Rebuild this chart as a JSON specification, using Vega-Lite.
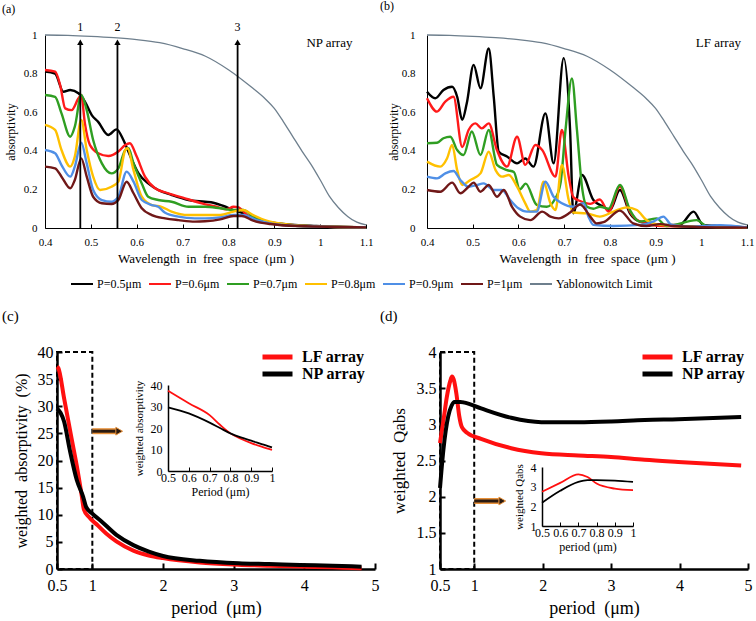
{
"$schema": "https://vega.github.io/schema/vega-lite/v6.json",
"background": "white",
"padding": {"left": 2, "top": 0, "right": 2, "bottom": 1},
"config": {
  "font": "Liberation Serif",
  "view": {"stroke": null},
  "axis": {"grid": false, "domainColor": "#000", "tickColor": "#000", "labelColor": "#000", "titleColor": "#000", "titleFontWeight": "normal", "labelFont": "Liberation Serif", "titleFont": "Liberation Serif", "labelOverlap": false, "tickCount": 50},
  "legend": {"labelFont": "Liberation Serif", "labelColor": "#000"},
  "title": {"font": "Liberation Serif", "fontWeight": "normal", "color": "#000", "anchor": "start", "frame": "group"}
},
"datasets": {
  "a": [
    {"s":"P=0.5μm","x":0.4,"y":0.81},{"s":"P=0.5μm","x":0.422,"y":0.8},{"s":"P=0.5μm","x":0.44,"y":0.706},{"s":"P=0.5μm","x":0.455,"y":0.715},{"s":"P=0.5μm","x":0.473,"y":0.698},{"s":"P=0.5μm","x":0.487,"y":0.655},{"s":"P=0.5μm","x":0.502,"y":0.585},{"s":"P=0.5μm","x":0.516,"y":0.55},{"s":"P=0.5μm","x":0.538,"y":0.482},{"s":"P=0.5μm","x":0.556,"y":0.511},{"s":"P=0.5μm","x":0.571,"y":0.456},{"s":"P=0.5μm","x":0.585,"y":0.378},{"s":"P=0.5μm","x":0.604,"y":0.283},{"s":"P=0.5μm","x":0.625,"y":0.231},{"s":"P=0.5μm","x":0.647,"y":0.197},{"s":"P=0.5μm","x":0.676,"y":0.171},{"s":"P=0.5μm","x":0.713,"y":0.145},{"s":"P=0.5μm","x":0.749,"y":0.136},{"s":"P=0.5μm","x":0.767,"y":0.131},{"s":"P=0.5μm","x":0.789,"y":0.114},{"s":"P=0.5μm","x":0.811,"y":0.093},{"s":"P=0.5μm","x":0.832,"y":0.076},{"s":"P=0.5μm","x":0.854,"y":0.05},{"s":"P=0.5μm","x":0.883,"y":0.033},{"s":"P=0.5μm","x":0.92,"y":0.021},{"s":"P=0.5μm","x":0.992,"y":0.01},{"s":"P=0.5μm","x":1.1,"y":0.003},
    {"s":"P=0.6μm","x":0.4,"y":0.819},{"s":"P=0.6μm","x":0.422,"y":0.81},{"s":"P=0.6μm","x":0.433,"y":0.741},{"s":"P=0.6μm","x":0.444,"y":0.62},{"s":"P=0.6μm","x":0.458,"y":0.611},{"s":"P=0.6μm","x":0.473,"y":0.672},{"s":"P=0.6μm","x":0.479,"y":0.689},{"s":"P=0.6μm","x":0.487,"y":0.542},{"s":"P=0.6μm","x":0.498,"y":0.43},{"s":"P=0.6μm","x":0.516,"y":0.387},{"s":"P=0.6μm","x":0.538,"y":0.373},{"s":"P=0.6μm","x":0.56,"y":0.396},{"s":"P=0.6μm","x":0.575,"y":0.43},{"s":"P=0.6μm","x":0.585,"y":0.439},{"s":"P=0.6μm","x":0.6,"y":0.37},{"s":"P=0.6μm","x":0.618,"y":0.266},{"s":"P=0.6μm","x":0.64,"y":0.206},{"s":"P=0.6μm","x":0.669,"y":0.18},{"s":"P=0.6μm","x":0.705,"y":0.154},{"s":"P=0.6μm","x":0.742,"y":0.128},{"s":"P=0.6μm","x":0.774,"y":0.11},{"s":"P=0.6μm","x":0.796,"y":0.097},{"s":"P=0.6μm","x":0.811,"y":0.11},{"s":"P=0.6μm","x":0.822,"y":0.107},{"s":"P=0.6μm","x":0.84,"y":0.067},{"s":"P=0.6μm","x":0.862,"y":0.041},{"s":"P=0.6μm","x":0.891,"y":0.024},{"s":"P=0.6μm","x":0.956,"y":0.01},{"s":"P=0.6μm","x":1.1,"y":0.003},
    {"s":"P=0.7μm","x":0.4,"y":0.689},{"s":"P=0.7μm","x":0.422,"y":0.68},{"s":"P=0.7μm","x":0.436,"y":0.594},{"s":"P=0.7μm","x":0.455,"y":0.473},{"s":"P=0.7μm","x":0.465,"y":0.525},{"s":"P=0.7μm","x":0.479,"y":0.689},{"s":"P=0.7μm","x":0.491,"y":0.611},{"s":"P=0.7μm","x":0.505,"y":0.456},{"s":"P=0.7μm","x":0.524,"y":0.335},{"s":"P=0.7μm","x":0.545,"y":0.283},{"s":"P=0.7μm","x":0.56,"y":0.309},{"s":"P=0.7μm","x":0.575,"y":0.404},{"s":"P=0.7μm","x":0.582,"y":0.413},{"s":"P=0.7μm","x":0.593,"y":0.335},{"s":"P=0.7μm","x":0.611,"y":0.231},{"s":"P=0.7μm","x":0.625,"y":0.162},{"s":"P=0.7μm","x":0.647,"y":0.145},{"s":"P=0.7μm","x":0.676,"y":0.136},{"s":"P=0.7μm","x":0.713,"y":0.11},{"s":"P=0.7μm","x":0.749,"y":0.11},{"s":"P=0.7μm","x":0.782,"y":0.102},{"s":"P=0.7μm","x":0.811,"y":0.093},{"s":"P=0.7μm","x":0.832,"y":0.093},{"s":"P=0.7μm","x":0.854,"y":0.059},{"s":"P=0.7μm","x":0.883,"y":0.033},{"s":"P=0.7μm","x":0.956,"y":0.01},{"s":"P=0.7μm","x":1.1,"y":0.003},
    {"s":"P=0.8μm","x":0.4,"y":0.534},{"s":"P=0.8μm","x":0.422,"y":0.508},{"s":"P=0.8μm","x":0.436,"y":0.404},{"s":"P=0.8μm","x":0.455,"y":0.318},{"s":"P=0.8μm","x":0.465,"y":0.37},{"s":"P=0.8μm","x":0.479,"y":0.56},{"s":"P=0.8μm","x":0.491,"y":0.404},{"s":"P=0.8μm","x":0.505,"y":0.266},{"s":"P=0.8μm","x":0.52,"y":0.197},{"s":"P=0.8μm","x":0.545,"y":0.214},{"s":"P=0.8μm","x":0.56,"y":0.24},{"s":"P=0.8μm","x":0.575,"y":0.404},{"s":"P=0.8μm","x":0.58,"y":0.413},{"s":"P=0.8μm","x":0.593,"y":0.3},{"s":"P=0.8μm","x":0.611,"y":0.162},{"s":"P=0.8μm","x":0.633,"y":0.119},{"s":"P=0.8μm","x":0.654,"y":0.11},{"s":"P=0.8μm","x":0.676,"y":0.085},{"s":"P=0.8μm","x":0.713,"y":0.067},{"s":"P=0.8μm","x":0.749,"y":0.067},{"s":"P=0.8μm","x":0.782,"y":0.067},{"s":"P=0.8μm","x":0.811,"y":0.085},{"s":"P=0.8μm","x":0.832,"y":0.093},{"s":"P=0.8μm","x":0.854,"y":0.067},{"s":"P=0.8μm","x":0.883,"y":0.038},{"s":"P=0.8μm","x":0.92,"y":0.021},{"s":"P=0.8μm","x":0.97,"y":0.01},{"s":"P=0.8μm","x":1.1,"y":0.003},
    {"s":"P=0.9μm","x":0.4,"y":0.404},{"s":"P=0.9μm","x":0.422,"y":0.387},{"s":"P=0.9μm","x":0.436,"y":0.326},{"s":"P=0.9μm","x":0.455,"y":0.266},{"s":"P=0.9μm","x":0.465,"y":0.318},{"s":"P=0.9μm","x":0.479,"y":0.442},{"s":"P=0.9μm","x":0.491,"y":0.335},{"s":"P=0.9μm","x":0.505,"y":0.197},{"s":"P=0.9μm","x":0.524,"y":0.145},{"s":"P=0.9μm","x":0.545,"y":0.136},{"s":"P=0.9μm","x":0.56,"y":0.162},{"s":"P=0.9μm","x":0.578,"y":0.292},{"s":"P=0.9μm","x":0.593,"y":0.24},{"s":"P=0.9μm","x":0.611,"y":0.145},{"s":"P=0.9μm","x":0.633,"y":0.119},{"s":"P=0.9μm","x":0.647,"y":0.11},{"s":"P=0.9μm","x":0.662,"y":0.079},{"s":"P=0.9μm","x":0.691,"y":0.059},{"s":"P=0.9μm","x":0.727,"y":0.05},{"s":"P=0.9μm","x":0.749,"y":0.05},{"s":"P=0.9μm","x":0.782,"y":0.055},{"s":"P=0.9μm","x":0.811,"y":0.067},{"s":"P=0.9μm","x":0.832,"y":0.067},{"s":"P=0.9μm","x":0.862,"y":0.041},{"s":"P=0.9μm","x":0.891,"y":0.024},{"s":"P=0.9μm","x":0.956,"y":0.01},{"s":"P=0.9μm","x":1.1,"y":0.003},
    {"s":"P=1μm","x":0.4,"y":0.318},{"s":"P=1μm","x":0.422,"y":0.309},{"s":"P=1μm","x":0.436,"y":0.266},{"s":"P=1μm","x":0.455,"y":0.206},{"s":"P=1μm","x":0.465,"y":0.249},{"s":"P=1μm","x":0.479,"y":0.361},{"s":"P=1μm","x":0.491,"y":0.266},{"s":"P=1μm","x":0.505,"y":0.162},{"s":"P=1μm","x":0.524,"y":0.128},{"s":"P=1μm","x":0.545,"y":0.124},{"s":"P=1μm","x":0.56,"y":0.145},{"s":"P=1μm","x":0.578,"y":0.24},{"s":"P=1μm","x":0.593,"y":0.18},{"s":"P=1μm","x":0.611,"y":0.102},{"s":"P=1μm","x":0.633,"y":0.067},{"s":"P=1μm","x":0.662,"y":0.05},{"s":"P=1μm","x":0.691,"y":0.041},{"s":"P=1μm","x":0.727,"y":0.033},{"s":"P=1μm","x":0.749,"y":0.035},{"s":"P=1μm","x":0.782,"y":0.045},{"s":"P=1μm","x":0.811,"y":0.062},{"s":"P=1μm","x":0.829,"y":0.062},{"s":"P=1μm","x":0.854,"y":0.038},{"s":"P=1μm","x":0.891,"y":0.021},{"s":"P=1μm","x":0.956,"y":0.01},{"s":"P=1μm","x":1.1,"y":0.003}
  ],
  "b": [
    {"s":"P=0.5μm","x":0.4,"y":0.706},{"s":"P=0.5μm","x":0.418,"y":0.672},{"s":"P=0.5μm","x":0.436,"y":0.715},{"s":"P=0.5μm","x":0.455,"y":0.732},{"s":"P=0.5μm","x":0.466,"y":0.68},{"s":"P=0.5μm","x":0.477,"y":0.56},{"s":"P=0.5μm","x":0.487,"y":0.646},{"s":"P=0.5μm","x":0.502,"y":0.845},{"s":"P=0.5μm","x":0.517,"y":0.724},{"s":"P=0.5μm","x":0.535,"y":0.93},{"s":"P=0.5μm","x":0.546,"y":0.68},{"s":"P=0.5μm","x":0.557,"y":0.395},{"s":"P=0.5μm","x":0.575,"y":0.37},{"s":"P=0.5μm","x":0.597,"y":0.335},{"s":"P=0.5μm","x":0.615,"y":0.36},{"s":"P=0.5μm","x":0.633,"y":0.318},{"s":"P=0.5μm","x":0.659,"y":0.594},{"s":"P=0.5μm","x":0.677,"y":0.335},{"s":"P=0.5μm","x":0.699,"y":0.88},{"s":"P=0.5μm","x":0.713,"y":0.508},{"s":"P=0.5μm","x":0.72,"y":0.076},{"s":"P=0.5μm","x":0.739,"y":0.275},{"s":"P=0.5μm","x":0.764,"y":0.145},{"s":"P=0.5μm","x":0.786,"y":0.11},{"s":"P=0.5μm","x":0.8,"y":0.093},{"s":"P=0.5μm","x":0.822,"y":0.197},{"s":"P=0.5μm","x":0.844,"y":0.076},{"s":"P=0.5μm","x":0.866,"y":0.033},{"s":"P=0.5μm","x":0.917,"y":0.016},{"s":"P=0.5μm","x":0.953,"y":0.016},{"s":"P=0.5μm","x":0.983,"y":0.085},{"s":"P=0.5μm","x":1.004,"y":0.016},{"s":"P=0.5μm","x":1.041,"y":0.01},{"s":"P=0.5μm","x":1.1,"y":0.003},
    {"s":"P=0.6μm","x":0.4,"y":0.672},{"s":"P=0.6μm","x":0.422,"y":0.603},{"s":"P=0.6μm","x":0.44,"y":0.655},{"s":"P=0.6μm","x":0.458,"y":0.68},{"s":"P=0.6μm","x":0.477,"y":0.42},{"s":"P=0.6μm","x":0.491,"y":0.508},{"s":"P=0.6μm","x":0.506,"y":0.542},{"s":"P=0.6μm","x":0.52,"y":0.516},{"s":"P=0.6μm","x":0.535,"y":0.542},{"s":"P=0.6μm","x":0.553,"y":0.404},{"s":"P=0.6μm","x":0.575,"y":0.318},{"s":"P=0.6μm","x":0.597,"y":0.473},{"s":"P=0.6μm","x":0.615,"y":0.327},{"s":"P=0.6μm","x":0.637,"y":0.43},{"s":"P=0.6μm","x":0.652,"y":0.404},{"s":"P=0.6μm","x":0.681,"y":0.266},{"s":"P=0.6μm","x":0.695,"y":0.508},{"s":"P=0.6μm","x":0.71,"y":0.266},{"s":"P=0.6μm","x":0.72,"y":0.16},{"s":"P=0.6μm","x":0.735,"y":0.14},{"s":"P=0.6μm","x":0.757,"y":0.125},{"s":"P=0.6μm","x":0.778,"y":0.148},{"s":"P=0.6μm","x":0.797,"y":0.085},{"s":"P=0.6μm","x":0.822,"y":0.215},{"s":"P=0.6μm","x":0.844,"y":0.085},{"s":"P=0.6μm","x":0.866,"y":0.033},{"s":"P=0.6μm","x":0.917,"y":0.01},{"s":"P=0.6μm","x":1.03,"y":0.007},{"s":"P=0.6μm","x":1.1,"y":0.003},
    {"s":"P=0.7μm","x":0.4,"y":0.439},{"s":"P=0.7μm","x":0.422,"y":0.442},{"s":"P=0.7μm","x":0.436,"y":0.465},{"s":"P=0.7μm","x":0.451,"y":0.473},{"s":"P=0.7μm","x":0.466,"y":0.404},{"s":"P=0.7μm","x":0.48,"y":0.378},{"s":"P=0.7μm","x":0.498,"y":0.5},{"s":"P=0.7μm","x":0.517,"y":0.378},{"s":"P=0.7μm","x":0.535,"y":0.508},{"s":"P=0.7μm","x":0.553,"y":0.327},{"s":"P=0.7μm","x":0.575,"y":0.3},{"s":"P=0.7μm","x":0.59,"y":0.29},{"s":"P=0.7μm","x":0.603,"y":0.2},{"s":"P=0.7μm","x":0.616,"y":0.23},{"s":"P=0.7μm","x":0.64,"y":0.12},{"s":"P=0.7μm","x":0.662,"y":0.11},{"s":"P=0.7μm","x":0.68,"y":0.15},{"s":"P=0.7μm","x":0.692,"y":0.231},{"s":"P=0.7μm","x":0.703,"y":0.508},{"s":"P=0.7μm","x":0.717,"y":0.775},{"s":"P=0.7μm","x":0.728,"y":0.508},{"s":"P=0.7μm","x":0.739,"y":0.214},{"s":"P=0.7μm","x":0.75,"y":0.11},{"s":"P=0.7μm","x":0.764,"y":0.1},{"s":"P=0.7μm","x":0.778,"y":0.11},{"s":"P=0.7μm","x":0.797,"y":0.1},{"s":"P=0.7μm","x":0.822,"y":0.223},{"s":"P=0.7μm","x":0.844,"y":0.093},{"s":"P=0.7μm","x":0.866,"y":0.033},{"s":"P=0.7μm","x":0.902,"y":0.05},{"s":"P=0.7μm","x":0.924,"y":0.01},{"s":"P=0.7μm","x":0.99,"y":0.041},{"s":"P=0.7μm","x":1.012,"y":0.01},{"s":"P=0.7μm","x":1.063,"y":0.007},{"s":"P=0.7μm","x":1.1,"y":0.003},
    {"s":"P=0.8μm","x":0.4,"y":0.344},{"s":"P=0.8μm","x":0.429,"y":0.318},{"s":"P=0.8μm","x":0.444,"y":0.361},{"s":"P=0.8μm","x":0.455,"y":0.43},{"s":"P=0.8μm","x":0.466,"y":0.3},{"s":"P=0.8μm","x":0.477,"y":0.223},{"s":"P=0.8μm","x":0.495,"y":0.249},{"s":"P=0.8μm","x":0.517,"y":0.283},{"s":"P=0.8μm","x":0.535,"y":0.395},{"s":"P=0.8μm","x":0.55,"y":0.3},{"s":"P=0.8μm","x":0.564,"y":0.266},{"s":"P=0.8μm","x":0.579,"y":0.275},{"s":"P=0.8μm","x":0.597,"y":0.214},{"s":"P=0.8μm","x":0.615,"y":0.128},{"s":"P=0.8μm","x":0.626,"y":0.085},{"s":"P=0.8μm","x":0.64,"y":0.093},{"s":"P=0.8μm","x":0.655,"y":0.24},{"s":"P=0.8μm","x":0.67,"y":0.128},{"s":"P=0.8μm","x":0.681,"y":0.093},{"s":"P=0.8μm","x":0.695,"y":0.327},{"s":"P=0.8μm","x":0.71,"y":0.145},{"s":"P=0.8μm","x":0.72,"y":0.08},{"s":"P=0.8μm","x":0.749,"y":0.076},{"s":"P=0.8μm","x":0.778,"y":0.059},{"s":"P=0.8μm","x":0.808,"y":0.085},{"s":"P=0.8μm","x":0.837,"y":0.107},{"s":"P=0.8μm","x":0.859,"y":0.093},{"s":"P=0.8μm","x":0.88,"y":0.041},{"s":"P=0.8μm","x":0.91,"y":0.016},{"s":"P=0.8μm","x":0.953,"y":0.01},{"s":"P=0.8μm","x":1.1,"y":0.003},
    {"s":"P=0.9μm","x":0.4,"y":0.266},{"s":"P=0.9μm","x":0.422,"y":0.257},{"s":"P=0.9μm","x":0.44,"y":0.283},{"s":"P=0.9μm","x":0.458,"y":0.295},{"s":"P=0.9μm","x":0.473,"y":0.249},{"s":"P=0.9μm","x":0.491,"y":0.214},{"s":"P=0.9μm","x":0.509,"y":0.223},{"s":"P=0.9μm","x":0.524,"y":0.231},{"s":"P=0.9μm","x":0.546,"y":0.197},{"s":"P=0.9μm","x":0.564,"y":0.197},{"s":"P=0.9μm","x":0.582,"y":0.145},{"s":"P=0.9μm","x":0.6,"y":0.102},{"s":"P=0.9μm","x":0.619,"y":0.085},{"s":"P=0.9μm","x":0.64,"y":0.085},{"s":"P=0.9μm","x":0.659,"y":0.24},{"s":"P=0.9μm","x":0.677,"y":0.162},{"s":"P=0.9μm","x":0.695,"y":0.128},{"s":"P=0.9μm","x":0.72,"y":0.11},{"s":"P=0.9μm","x":0.742,"y":0.128},{"s":"P=0.9μm","x":0.753,"y":0.06},{"s":"P=0.9μm","x":0.764,"y":0.016},{"s":"P=0.9μm","x":0.808,"y":0.01},{"s":"P=0.9μm","x":0.866,"y":0.016},{"s":"P=0.9μm","x":0.895,"y":0.033},{"s":"P=0.9μm","x":0.917,"y":0.059},{"s":"P=0.9μm","x":0.935,"y":0.016},{"s":"P=0.9μm","x":0.975,"y":0.007},{"s":"P=0.9μm","x":1.04,"y":0.014},{"s":"P=0.9μm","x":1.1,"y":0.003},
    {"s":"P=1μm","x":0.4,"y":0.197},{"s":"P=1μm","x":0.429,"y":0.188},{"s":"P=1μm","x":0.455,"y":0.235},{"s":"P=1μm","x":0.473,"y":0.18},{"s":"P=1μm","x":0.491,"y":0.214},{"s":"P=1μm","x":0.502,"y":0.235},{"s":"P=1μm","x":0.517,"y":0.188},{"s":"P=1μm","x":0.535,"y":0.223},{"s":"P=1μm","x":0.553,"y":0.162},{"s":"P=1μm","x":0.568,"y":0.197},{"s":"P=1μm","x":0.586,"y":0.11},{"s":"P=1μm","x":0.604,"y":0.059},{"s":"P=1μm","x":0.626,"y":0.041},{"s":"P=1μm","x":0.652,"y":0.085},{"s":"P=1μm","x":0.67,"y":0.059},{"s":"P=1μm","x":0.688,"y":0.05},{"s":"P=1μm","x":0.713,"y":0.08},{"s":"P=1μm","x":0.735,"y":0.122},{"s":"P=1μm","x":0.757,"y":0.059},{"s":"P=1μm","x":0.771,"y":0.024},{"s":"P=1μm","x":0.786,"y":0.03},{"s":"P=1μm","x":0.822,"y":0.09},{"s":"P=1μm","x":0.851,"y":0.024},{"s":"P=1μm","x":0.88,"y":0.01},{"s":"P=1μm","x":0.91,"y":0.02},{"s":"P=1μm","x":0.939,"y":0.01},{"s":"P=1μm","x":1.03,"y":0.003},{"s":"P=1μm","x":1.1,"y":0.002}
  ],
  "yab": [
    {"s":"Yablonowitch Limit","x":0.4,"y":1.0},{"s":"Yablonowitch Limit","x":0.45,"y":0.998},{"s":"Yablonowitch Limit","x":0.5,"y":0.993},{"s":"Yablonowitch Limit","x":0.55,"y":0.986},{"s":"Yablonowitch Limit","x":0.6,"y":0.976},{"s":"Yablonowitch Limit","x":0.65,"y":0.96},{"s":"Yablonowitch Limit","x":0.7,"y":0.93},{"s":"Yablonowitch Limit","x":0.75,"y":0.89},{"s":"Yablonowitch Limit","x":0.8,"y":0.82},{"s":"Yablonowitch Limit","x":0.85,"y":0.73},{"s":"Yablonowitch Limit","x":0.88,"y":0.67},{"s":"Yablonowitch Limit","x":0.9,"y":0.62},{"s":"Yablonowitch Limit","x":0.92,"y":0.55},{"s":"Yablonowitch Limit","x":0.94,"y":0.475},{"s":"Yablonowitch Limit","x":0.96,"y":0.4},{"s":"Yablonowitch Limit","x":0.98,"y":0.33},{"s":"Yablonowitch Limit","x":1.0,"y":0.25},{"s":"Yablonowitch Limit","x":1.02,"y":0.165},{"s":"Yablonowitch Limit","x":1.04,"y":0.105},{"s":"Yablonowitch Limit","x":1.06,"y":0.06},{"s":"Yablonowitch Limit","x":1.08,"y":0.03},{"s":"Yablonowitch Limit","x":1.1,"y":0.016}
  ],
  "arr": [
    {"x":0.477,"y0":0,"y1":0.962,"lab":"1","ly":1},{"x":0.558,"y0":0,"y1":0.962,"lab":"2","ly":1},{"x":0.82,"y0":0,"y1":0.962,"lab":"3","ly":1}
  ],
  "c": [
    {"s":"LF array","x":0.5,"y":37.3},{"s":"LF array","x":0.52,"y":37.0},{"s":"LF array","x":0.6,"y":31.5},{"s":"LF array","x":0.7,"y":24.5},{"s":"LF array","x":0.78,"y":19.0},{"s":"LF array","x":0.85,"y":13.5},{"s":"LF array","x":0.88,"y":11.0},{"s":"LF array","x":0.95,"y":9.6},{"s":"LF array","x":1.08,"y":8.0},{"s":"LF array","x":1.2,"y":6.5},{"s":"LF array","x":1.34,"y":5.1},{"s":"LF array","x":1.58,"y":3.4},{"s":"LF array","x":1.8,"y":2.5},{"s":"LF array","x":2.0,"y":2.0},{"s":"LF array","x":2.52,"y":1.2},{"s":"LF array","x":3.06,"y":0.8},{"s":"LF array","x":3.5,"y":0.6},{"s":"LF array","x":3.94,"y":0.45},{"s":"LF array","x":4.4,"y":0.3},{"s":"LF array","x":4.81,"y":0.15},
    {"s":"NP array","x":0.5,"y":29.6},{"s":"NP array","x":0.55,"y":28.8},{"s":"NP array","x":0.6,"y":27.2},{"s":"NP array","x":0.68,"y":22.0},{"s":"NP array","x":0.78,"y":16.4},{"s":"NP array","x":0.87,"y":13.3},{"s":"NP array","x":0.91,"y":11.5},{"s":"NP array","x":1.0,"y":10.2},{"s":"NP array","x":1.11,"y":9.0},{"s":"NP array","x":1.34,"y":6.3},{"s":"NP array","x":1.58,"y":4.4},{"s":"NP array","x":1.8,"y":3.2},{"s":"NP array","x":2.0,"y":2.4},{"s":"NP array","x":2.52,"y":1.5},{"s":"NP array","x":3.07,"y":1.05},{"s":"NP array","x":3.5,"y":0.9},{"s":"NP array","x":3.94,"y":0.74},{"s":"NP array","x":4.4,"y":0.6},{"s":"NP array","x":4.81,"y":0.43}
  ],
  "ci": [
    {"s":"LF array","x":0.5,"y":37.3},{"s":"LF array","x":0.6,"y":31.5},{"s":"LF array","x":0.7,"y":26.0},{"s":"LF array","x":0.75,"y":21.5},{"s":"LF array","x":0.8,"y":17.5},{"s":"LF array","x":0.85,"y":15.0},{"s":"LF array","x":0.9,"y":13.0},{"s":"LF array","x":0.95,"y":11.3},{"s":"LF array","x":1.0,"y":9.8},
    {"s":"NP array","x":0.5,"y":29.6},{"s":"NP array","x":0.6,"y":26.8},{"s":"NP array","x":0.7,"y":22.5},{"s":"NP array","x":0.75,"y":20.0},{"s":"NP array","x":0.8,"y":17.5},{"s":"NP array","x":0.85,"y":15.6},{"s":"NP array","x":0.9,"y":14.1},{"s":"NP array","x":0.95,"y":12.5},{"s":"NP array","x":1.0,"y":11.0}
  ],
  "arrC": [{"x":1.0,"x2":1.34,"xh":1.38,"y":25.4}],
  "d": [
    {"s":"LF array","x":0.5,"y":2.74},{"s":"LF array","x":0.55,"y":3.05},{"s":"LF array","x":0.6,"y":3.38},{"s":"LF array","x":0.65,"y":3.6},{"s":"LF array","x":0.675,"y":3.66},{"s":"LF array","x":0.7,"y":3.62},{"s":"LF array","x":0.74,"y":3.42},{"s":"LF array","x":0.78,"y":3.12},{"s":"LF array","x":0.82,"y":2.96},{"s":"LF array","x":0.9,"y":2.88},{"s":"LF array","x":1.1,"y":2.8},{"s":"LF array","x":1.54,"y":2.67},{"s":"LF array","x":1.98,"y":2.6},{"s":"LF array","x":2.52,"y":2.57},{"s":"LF array","x":3.0,"y":2.55},{"s":"LF array","x":3.49,"y":2.51},{"s":"LF array","x":3.98,"y":2.48},{"s":"LF array","x":4.9,"y":2.43},
    {"s":"NP array","x":0.5,"y":2.12},{"s":"NP array","x":0.55,"y":2.65},{"s":"NP array","x":0.62,"y":3.11},{"s":"NP array","x":0.67,"y":3.26},{"s":"NP array","x":0.71,"y":3.31},{"s":"NP array","x":0.8,"y":3.31},{"s":"NP array","x":0.86,"y":3.3},{"s":"NP array","x":1.1,"y":3.22},{"s":"NP array","x":1.54,"y":3.09},{"s":"NP array","x":1.98,"y":3.03},{"s":"NP array","x":2.52,"y":3.03},{"s":"NP array","x":3.0,"y":3.04},{"s":"NP array","x":3.49,"y":3.06},{"s":"NP array","x":3.98,"y":3.07},{"s":"NP array","x":4.9,"y":3.1}
  ],
  "di": [
    {"s":"LF array","x":0.5,"y":2.74},{"s":"LF array","x":0.6,"y":3.19},{"s":"LF array","x":0.7,"y":3.63},{"s":"LF array","x":0.75,"y":3.49},{"s":"LF array","x":0.8,"y":3.16},{"s":"LF array","x":0.9,"y":2.9},{"s":"LF array","x":1.0,"y":2.82},
    {"s":"NP array","x":0.5,"y":2.18},{"s":"NP array","x":0.6,"y":2.79},{"s":"NP array","x":0.7,"y":3.24},{"s":"NP array","x":0.75,"y":3.33},{"s":"NP array","x":0.8,"y":3.33},{"s":"NP array","x":0.9,"y":3.31},{"s":"NP array","x":1.0,"y":3.24}
  ],
  "arrD": [{"x":1.0,"x2":1.36,"xh":1.41,"y":1.94}]
},
"spacing": 18,
"resolve": {"scale": {"color": "independent"}},
"vconcat": [
  {
    "hconcat": [
      {
        "width": 321, "height": 193,
        "title": {"text": "(a)", "fontSize": 12, "dx": -43, "offset": 5},
        "layer": [
          {"data": {"name": "a"}, "mark": {"type": "line", "strokeWidth": 2.4, "interpolate": "monotone"},
           "encoding": {
             "x": {"field": "x", "type": "quantitative", "scale": {"domain": [0.4, 1.1], "nice": false, "zero": false},
                   "axis": {"values": [0.4,0.5,0.6,0.7,0.8,0.9,1,1.1], "tickCount": 50, "format": ".1~f", "labelOverlap": false, "labelFontSize": 11, "labelFlush": false, "tickSize": -4, "labelPadding": 12, "title": "Wavelength\u00a0 in\u00a0 free\u00a0 space\u00a0 (μm )", "titleFontSize": 13, "titlePadding": 5}},
             "y": {"field": "y", "type": "quantitative", "scale": {"domain": [0, 1], "nice": false},
                   "axis": {"values": [0,0.2,0.4,0.6,0.8,1], "tickCount": 50, "format": ".1~f", "labelOverlap": false, "labelFontSize": 11, "ticks": false, "labelPadding": 8, "title": "absorptivity", "titleFontSize": 12, "titlePadding": 6}},
             "color": {"field": "s", "type": "nominal",
                       "scale": {"domain": ["P=0.5μm","P=0.6μm","P=0.7μm","P=0.8μm","P=0.9μm","P=1μm","Yablonowitch Limit"], "range": ["#000000","#ff1a1a","#2f9e22","#ffc000","#4f8fe6","#701818","#6e7f8d"]},
                       "legend": {"orient": "none", "legendX": 25, "legendY": 242, "direction": "horizontal", "title": null, "symbolType": "stroke", "symbolSize": 484, "symbolStrokeWidth": 2, "clipHeight": 14, "labelFontSize": 12, "labelOffset": 3, "columnPadding": 6}}
           }},
          {"data": {"name": "yab"}, "mark": {"type": "line", "strokeWidth": 1.3, "interpolate": "monotone"},
           "encoding": {"x": {"field": "x", "type": "quantitative"}, "y": {"field": "y", "type": "quantitative"}, "color": {"field": "s", "type": "nominal"}}},
          {"data": {"name": "arr"}, "mark": {"type": "rule", "color": "#000", "strokeWidth": 1.8},
           "encoding": {"x": {"field": "x", "type": "quantitative"}, "y": {"field": "y0", "type": "quantitative"}, "y2": {"field": "y1"}}},
          {"data": {"name": "arr"}, "mark": {"type": "point", "shape": "triangle-up", "filled": true, "color": "#000", "size": 40, "opacity": 1},
           "encoding": {"x": {"field": "x", "type": "quantitative"}, "y": {"field": "y1", "type": "quantitative"}}},
          {"data": {"name": "arr"}, "mark": {"type": "text", "baseline": "bottom", "fontSize": 12, "dy": -1},
           "encoding": {"x": {"field": "x", "type": "quantitative"}, "y": {"field": "ly", "type": "quantitative"}, "text": {"field": "lab"}}},
          {"data": {"values": [{"x": 0.97, "y": 0.957, "t": "NP array"}]}, "mark": {"type": "text", "align": "left", "baseline": "middle", "fontSize": 13},
           "encoding": {"x": {"field": "x", "type": "quantitative"}, "y": {"field": "y", "type": "quantitative"}, "text": {"field": "t"}}}
        ]
      },
      {
        "width": 320, "height": 193,
        "title": {"text": "(b)", "fontSize": 12, "dx": -47, "offset": 16},
        "layer": [
          {"data": {"name": "b"}, "mark": {"type": "line", "strokeWidth": 2.4, "interpolate": "monotone"},
           "encoding": {
             "x": {"field": "x", "type": "quantitative", "scale": {"domain": [0.4, 1.1], "nice": false, "zero": false},
                   "axis": {"values": [0.4,0.5,0.6,0.7,0.8,0.9,1,1.1], "tickCount": 50, "format": ".1~f", "labelOverlap": false, "labelFontSize": 11, "labelFlush": false, "tickSize": -4, "labelPadding": 12, "title": "Wavelength\u00a0 in\u00a0 free\u00a0 space\u00a0 (μm )", "titleFontSize": 13, "titlePadding": 5}},
             "y": {"field": "y", "type": "quantitative", "scale": {"domain": [0, 1], "nice": false},
                   "axis": {"values": [0,0.2,0.4,0.6,0.8,1], "tickCount": 50, "format": ".1~f", "labelOverlap": false, "labelFontSize": 11, "ticks": false, "labelPadding": 12, "title": "absorptivity", "titleFontSize": 12, "titlePadding": 1}},
             "color": {"field": "s", "type": "nominal",
                       "scale": {"domain": ["P=0.5μm","P=0.6μm","P=0.7μm","P=0.8μm","P=0.9μm","P=1μm","Yablonowitch Limit"], "range": ["#000000","#ff1a1a","#2f9e22","#ffc000","#4f8fe6","#701818","#6e7f8d"]},
                       "legend": null}
           }},
          {"data": {"name": "yab"}, "mark": {"type": "line", "strokeWidth": 1.3, "interpolate": "monotone"},
           "encoding": {"x": {"field": "x", "type": "quantitative"}, "y": {"field": "y", "type": "quantitative"}, "color": {"field": "s", "type": "nominal"}}},
          {"data": {"values": [{"x": 0.988, "y": 0.957, "t": "LF array"}]}, "mark": {"type": "text", "align": "left", "baseline": "middle", "fontSize": 13},
           "encoding": {"x": {"field": "x", "type": "quantitative"}, "y": {"field": "y", "type": "quantitative"}, "text": {"field": "t"}}}
        ]
      }
    ],
    "spacing": 61, "bounds": "flush", "resolve": {"scale": {"color": "independent"}}
  },
  {
    "hconcat": [
      {
        "width": 330, "height": 217,
        "title": {"text": "(c)", "fontSize": 15, "dx": -43, "offset": 20},
        "resolve": {"scale": {"x": "independent", "y": "independent"}},
        "layer": [
          {"layer": [
            {"data": {"values": [{"x": 0.5, "x2": 1, "y": 0, "y2": 40}]},
             "mark": {"type": "rect", "filled": false, "stroke": "#000", "strokeWidth": 2, "strokeDash": [5, 3]},
             "encoding": {
               "x": {"field": "x", "type": "quantitative", "scale": {"domain": [0.5, 5], "range": [12, 330], "nice": false, "zero": false},
                     "axis": {"values": [0.5,1,2,3,4,5], "tickCount": 50, "format": ".1~f", "labelOverlap": false, "labelFontSize": 16, "labelFlush": false, "tickSize": -6, "tickWidth": 2, "domainWidth": 2.5, "labelPadding": 14, "title": "period\u00a0 (μm)", "titleFontSize": 18, "titlePadding": 6}},
               "x2": {"field": "x2"},
               "y": {"field": "y", "type": "quantitative", "scale": {"domain": [0, 40], "nice": false},
                     "axis": {"offset": -12, "values": [0,5,10,15,20,25,30,35,40], "tickCount": 50, "format": "d", "labelOverlap": false, "labelFontSize": 16, "tickSize": -5, "tickWidth": 2, "domainWidth": 2.5, "labelPadding": 9, "title": "weighted\u00a0 absorptivity\u00a0 (%)", "titleFontSize": 16, "titlePadding": 8}},
               "y2": {"field": "y2"}}},
            {"data": {"name": "c"}, "mark": {"type": "line", "strokeWidth": 4, "interpolate": "monotone"},
             "encoding": {"x": {"field": "x", "type": "quantitative"}, "y": {"field": "y", "type": "quantitative"},
               "color": {"field": "s", "type": "nominal", "scale": {"domain": ["LF array", "NP array"], "range": ["#ff1010", "#000000"]},
                         "legend": {"orient": "none", "legendX": 215, "legendY": -3, "title": null, "symbolType": "stroke", "symbolSize": 900, "symbolStrokeWidth": 5, "clipHeight": 16, "labelFontSize": 16, "labelFontWeight": "bold", "labelOffset": 7, "rowPadding": 1}}}},
            {"data": {"name": "arrC"}, "mark": {"type": "rule", "color": "#e8913a", "strokeWidth": 6},
             "encoding": {"x": {"field": "x", "type": "quantitative"}, "x2": {"field": "x2"}, "y": {"field": "y", "type": "quantitative"}}},
            {"data": {"name": "arrC"}, "mark": {"type": "rule", "color": "#2a1a10", "strokeWidth": 3},
             "encoding": {"x": {"field": "x", "type": "quantitative"}, "x2": {"field": "x2"}, "y": {"field": "y", "type": "quantitative"}}},
            {"data": {"name": "arrC"}, "mark": {"type": "point", "shape": "triangle-right", "filled": true, "fill": "#2a1a10", "stroke": "#e8913a", "strokeWidth": 1, "size": 60, "opacity": 1},
             "encoding": {"x": {"field": "xh", "type": "quantitative"}, "y": {"field": "y", "type": "quantitative"}}}
          ]},
          {"data": {"name": "ci"}, "mark": {"type": "line", "strokeWidth": 1.8, "interpolate": "monotone"},
           "encoding": {
             "x": {"field": "x", "type": "quantitative", "scale": {"domain": [0.5, 1], "range": [123, 227], "nice": false, "zero": false},
                   "axis": {"orient": "bottom", "offset": -98, "values": [0.5,0.6,0.7,0.8,0.9,1], "tickCount": 50, "format": ".1~f", "labelOverlap": false, "labelFontSize": 12, "labelFlush": false, "tickSize": -4, "domainWidth": 1.5, "labelPadding": 5, "title": "Period (μm)", "titleFontSize": 12, "titlePadding": 3}},
             "y": {"field": "y", "type": "quantitative", "scale": {"domain": [0, 40], "range": [119, 33], "nice": false},
                   "axis": {"orient": "left", "offset": -123, "values": [0,10,20,30,40], "tickCount": 50, "format": "d", "labelOverlap": false, "labelFontSize": 12, "ticks": false, "domainWidth": 1.5, "labelPadding": 6, "title": "weighted absorptivity", "titleFontSize": 11, "titlePadding": 6}},
             "color": {"field": "s", "type": "nominal"}}}
        ]
      },
      {
        "width": 321, "height": 217,
        "title": {"text": "(d)", "fontSize": 15, "dx": -47, "offset": 20},
        "resolve": {"scale": {"x": "independent", "y": "independent"}},
        "layer": [
          {"layer": [
            {"data": {"values": [{"x": 0.5, "x2": 1, "y": 1, "y2": 4}]},
             "mark": {"type": "rect", "filled": false, "stroke": "#000", "strokeWidth": 2, "strokeDash": [5, 3]},
             "encoding": {
               "x": {"field": "x", "type": "quantitative", "scale": {"domain": [0.5, 5], "range": [13, 321], "nice": false, "zero": false},
                     "axis": {"values": [0.5,1,2,3,4,5], "tickCount": 50, "format": ".1~f", "labelOverlap": false, "labelFontSize": 16, "labelFlush": false, "tickSize": -6, "tickWidth": 2, "domainWidth": 2.5, "labelPadding": 14, "title": "period\u00a0 (μm)", "titleFontSize": 18, "titlePadding": 6}},
               "x2": {"field": "x2"},
               "y": {"field": "y", "type": "quantitative", "scale": {"domain": [1, 4], "nice": false, "zero": false},
                     "axis": {"offset": -13, "values": [1,1.5,2,2.5,3,3.5,4], "tickCount": 50, "format": ".1~f", "labelOverlap": false, "labelFontSize": 16, "tickSize": -5, "tickWidth": 2, "domainWidth": 2.5, "labelPadding": 9, "title": "weighted\u00a0 Qabs", "titleFontSize": 17, "titlePadding": 8}},
               "y2": {"field": "y2"}}},
            {"data": {"name": "d"}, "mark": {"type": "line", "strokeWidth": 4, "interpolate": "monotone"},
             "encoding": {"x": {"field": "x", "type": "quantitative"}, "y": {"field": "y", "type": "quantitative"},
               "color": {"field": "s", "type": "nominal", "scale": {"domain": ["LF array", "NP array"], "range": ["#ff1010", "#000000"]},
                         "legend": {"orient": "none", "legendX": 213, "legendY": -3, "title": null, "symbolType": "stroke", "symbolSize": 900, "symbolStrokeWidth": 5, "clipHeight": 16, "labelFontSize": 16, "labelFontWeight": "bold", "labelOffset": 7, "rowPadding": 1}}}},
            {"data": {"name": "arrD"}, "mark": {"type": "rule", "color": "#e8913a", "strokeWidth": 6},
             "encoding": {"x": {"field": "x", "type": "quantitative"}, "x2": {"field": "x2"}, "y": {"field": "y", "type": "quantitative"}}},
            {"data": {"name": "arrD"}, "mark": {"type": "rule", "color": "#2a1a10", "strokeWidth": 3},
             "encoding": {"x": {"field": "x", "type": "quantitative"}, "x2": {"field": "x2"}, "y": {"field": "y", "type": "quantitative"}}},
            {"data": {"name": "arrD"}, "mark": {"type": "point", "shape": "triangle-right", "filled": true, "fill": "#2a1a10", "stroke": "#e8913a", "strokeWidth": 1, "size": 60, "opacity": 1},
             "encoding": {"x": {"field": "xh", "type": "quantitative"}, "y": {"field": "y", "type": "quantitative"}}}
          ]},
          {"data": {"name": "di"}, "mark": {"type": "line", "strokeWidth": 1.8, "interpolate": "monotone"},
           "encoding": {
             "x": {"field": "x", "type": "quantitative", "scale": {"domain": [0.5, 1], "range": [115, 206], "nice": false, "zero": false},
                   "axis": {"orient": "bottom", "offset": -43, "values": [0.5,0.6,0.7,0.8,0.9,1], "tickCount": 50, "format": ".1~f", "labelOverlap": false, "labelFontSize": 12, "labelFlush": false, "tickSize": -4, "domainWidth": 1.5, "labelPadding": 5, "title": "period (μm)", "titleFontSize": 12, "titlePadding": 3}},
             "y": {"field": "y", "type": "quantitative", "scale": {"domain": [1, 4], "range": [174, 115], "nice": false, "zero": false},
                   "axis": {"orient": "left", "offset": -115, "values": [1,2,3,4], "tickCount": 50, "format": "d", "labelOverlap": false, "labelFontSize": 12, "ticks": false, "domainWidth": 1.5, "labelPadding": 6, "title": "weighted Qabs", "titleFontSize": 11, "titlePadding": 6}},
             "color": {"field": "s", "type": "nominal"}}}
        ]
      }
    ],
    "spacing": 52, "bounds": "flush", "resolve": {"scale": {"color": "independent"}}
  }
]
}
